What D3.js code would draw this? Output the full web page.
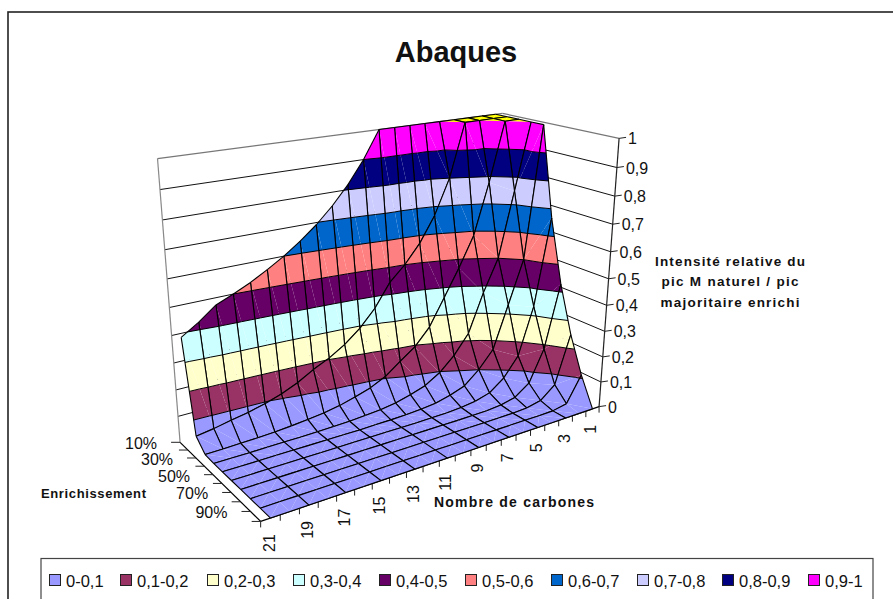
<!DOCTYPE html>
<html lang="fr">
<head>
<meta charset="utf-8">
<title>Abaques</title>
<script src="https://cdn.jsdelivr.net/npm/d3@7"></script>
<style>
  html, body { margin: 0; padding: 0; background: #fff; overflow: hidden; }
  text { font-family: "Liberation Sans", Arial, sans-serif; fill: #111; }
</style>
</head>
<body>
<div id="chart"></div>
<script>
// Values, one list per enrichment row, carbons 1..21
const carbons = d3.range(1, 22);
const enrichments = [10, 20, 30, 40, 50, 60, 70, 80, 90, 100];
const e10 = [1, 1, 1, 1, 1, 1, 1, 1, 1, 0.9, 0.818, 0.75, 0.692, 0.643, 0.6, 0.563, 0.529, 0.5, 0.474, 0.426, 0.386];
const e20 = [1, 1, 1, 1, 0.8, 0.667, 0.571, 0.5, 0.444, 0.356, 0.291, 0.242, 0.205, 0.176, 0.141, 0.114, 0.094, 0.078, 0.066, 0.053, 0.043];
const e30 = [1, 1, 0.778, 0.583, 0.467, 0.363, 0.259, 0.194, 0.151, 0.106, 0.077, 0.058, 0.041, 0.03, 0.022, 0.016, 0.011, 0.008, 0.006, 0.004, 0.003];
const e40 = [1, 0.75, 0.5, 0.375, 0.225, 0.15, 0.096, 0.06, 0.04, 0.024, 0.015, 0.01, 0.006, 0.004, 0.002, 0.001, 0.001, 0.001, 0, 0, 0];
const e50 = [1, 0.5, 0.333, 0.167, 0.1, 0.05, 0.029, 0.014, 0.008, 0.004, 0.002, 0.001, 0, 0, 0, 0, 0, 0, 0, 0, 0];
const e60 = [0.667, 0.333, 0.148, 0.074, 0.03, 0.013, 0.006, 0.002, 0.001, 0, 0, 0, 0, 0, 0, 0, 0, 0, 0, 0, 0];
const e70 = [0.429, 0.184, 0.061, 0.02, 0.007, 0.002, 0.001, 0, 0, 0, 0, 0, 0, 0, 0, 0, 0, 0, 0, 0, 0];
const e80 = [0.25, 0.063, 0.016, 0.004, 0.001, 0, 0, 0, 0, 0, 0, 0, 0, 0, 0, 0, 0, 0, 0, 0, 0];
const e90 = [0.111, 0.012, 0.001, 0, 0, 0, 0, 0, 0, 0, 0, 0, 0, 0, 0, 0, 0, 0, 0, 0, 0];
const e100 = [0, 0, 0, 0, 0, 0, 0, 0, 0, 0, 0, 0, 0, 0, 0, 0, 0, 0, 0, 0, 0];
const rows = [e10, e20, e30, e40, e50, e60, e70, e80, e90, e100];

const bandLabels = ['0-0,1', '0,1-0,2', '0,2-0,3', '0,3-0,4', '0,4-0,5', '0,5-0,6', '0,6-0,7', '0,7-0,8', '0,8-0,9', '0,9-1'];
const bandColors = ['#9999FF', '#993366', '#FFFFCC', '#CCFFFF', '#660066', '#FF8080', '#0066CC', '#CCCCFF', '#000080', '#FF00FF'];
const topColor = '#FFFF00'; // cells sitting exactly on the axis maximum
const zTicks = [0, 0.1, 0.2, 0.3, 0.4, 0.5, 0.6, 0.7, 0.8, 0.9, 1];
const carbonLabels = [1, 3, 5, 7, 9, 11, 13, 15, 17, 19, 21];
const enrichLabels = [10, 30, 50, 70, 90];

const width = 893;
const height = 599;
const svg = d3.select('#chart').append('svg')
  .attr('width', width).attr('height', height)
  .style('display', 'block');

// Box coordinates 0..1. Categories sit mid-slot on the carbon axis, rows sit on the ticks.
const aScale = d3.scaleLinear().domain([0.5, 21.5]).range([0, 1]);
const bScale = d3.scaleLinear().domain([10, 100]).range([0, 1]);
const zFmt = (d) => String(d).replace('.', ',');

// Excel-like perspective: fit a 3x4 projection to the corners of the plot box
const boxPins = [
  [1, 0, 0, 180, 442], [1, 0, 0.3, 174, 364], [1, 0, 0.5, 170, 308], [1, 0, 1, 157.3, 157.7],
  [0, 0, 1, 502, 113], [0, 1, 1, 618, 139.5], [0, 1, 0.5, 610, 278], [0, 1, 0.3, 607, 331],
  [0, 1, 0, 597, 407], [1, 1, 0, 260, 521]
];

function fitProjection(pins) {
  const A = [];
  const y = [];
  pins.forEach(([a, b, z, px, py]) => {
    A.push([a, b, z, 1, 0, 0, 0, 0, -px * a, -px * b, -px * z]);
    y.push(px);
    A.push([0, 0, 0, 0, a, b, z, 1, -py * a, -py * b, -py * z]);
    y.push(py);
  });
  const n = 11;
  const M = d3.range(n).map((i) => {
    const r = d3.range(n).map((j) => d3.sum(A, (row) => row[i] * row[j]));
    r.push(d3.sum(A, (row, k) => row[i] * y[k]));
    return r;
  });
  for (let i = 0; i < n; i++) {
    let p = i;
    for (let k = i + 1; k < n; k++) if (Math.abs(M[k][i]) > Math.abs(M[p][i])) p = k;
    [M[i], M[p]] = [M[p], M[i]];
    for (let k = 0; k < n; k++) {
      if (k === i) continue;
      const f = M[k][i] / M[i][i];
      for (let j = i; j <= n; j++) M[k][j] -= f * M[i][j];
    }
  }
  return d3.range(n).map((i) => M[i][n] / M[i][i]);
}

const P = fitProjection(boxPins);
function project([a, b, z]) {
  const w = P[8] * a + P[9] * b + P[10] * z + 1;
  return [
    (P[0] * a + P[1] * b + P[2] * z + P[3]) / w,
    (P[4] * a + P[5] * b + P[6] * z + P[7]) / w
  ];
}

const path3d = (pts, closed) => {
  const d = d3.line()(pts.map(project));
  return closed ? d + 'Z' : d;
};

function seg(g, p, q, color, w) {
  g.append('path').attr('d', path3d([p, q]))
    .attr('fill', 'none').attr('stroke', color).attr('stroke-width', w);
}

// --- Frame and legend box ---
svg.append('rect').attr('x', 8).attr('y', 12).attr('width', width + 20).attr('height', height + 20)
  .attr('fill', '#fff').attr('stroke', '#222').attr('stroke-width', 1.6);

svg.append('text').attr('x', 456).attr('y', 62).attr('text-anchor', 'middle')
  .style('font-size', '29px').style('font-weight', 'bold').text('Abaques');

// --- Walls ---
const walls = svg.append('g').attr('class', 'walls');
zTicks.filter((d) => d > 0 && d < 1).forEach((z) => {
  seg(walls, [1, 0, z], [0, 0, z], '#111', 1);
  seg(walls, [0, 0, z], [0, 1, z], '#111', 1);
});
seg(walls, [1, 0, 1], [0, 0, 1], '#777', 1.2);
seg(walls, [0, 0, 1], [0, 1, 1], '#777', 1.2);
seg(walls, [1, 0, 0], [1, 0, 1], '#888', 1.2);
seg(walls, [0, 1, 0], [0, 1, 1], '#222', 1.2);

// --- Floor edges and axes ---
const axes = svg.append('g').attr('class', 'axes');
seg(axes, [1, 0, 0], [1, 1, 0], '#000', 1.2);
seg(axes, [1, 1, 0], [0, 1, 0], '#000', 1.2);

zTicks.forEach((z) => {
  const [x, y] = project([0, 1, z]);
  axes.append('line').attr('x1', x).attr('y1', y).attr('x2', x + 7).attr('y2', y - 1)
    .attr('stroke', '#222');
  axes.append('text').attr('x', x + 9).attr('y', y + 6).style('font-size', '16px').text(zFmt(z));
});

enrichments.forEach((e) => {
  const [x, y] = project([1, bScale(e), 0]);
  axes.append('line').attr('x1', x).attr('y1', y).attr('x2', x - 9).attr('y2', y)
    .attr('stroke', '#222');
});
enrichLabels.forEach((e) => {
  const [x, y] = project([1, bScale(e), 0]);
  axes.append('text').attr('x', x - 23).attr('y', y + 7).attr('text-anchor', 'end')
    .style('font-size', '16px').text(e + '%');
});

d3.range(0, 22).forEach((k) => {
  const [x, y] = project([k / 21, 1, 0]);
  axes.append('line').attr('x1', x).attr('y1', y).attr('x2', x).attr('y2', y + 6)
    .attr('stroke', '#222');
});
carbonLabels.forEach((c) => {
  const [x, y] = project([aScale(c), 1, 0]);
  axes.append('text')
    .attr('transform', `translate(${x + 4},${y + 16}) rotate(-90)`)
    .attr('text-anchor', 'end')
    .style('font-size', '16px').text(c);
});

// --- Surface, painted back to front ---
function clipAbove(poly, level, keepAbove) {
  const out = [];
  poly.forEach((p, i) => {
    const q = poly[(i + 1) % poly.length];
    const pIn = keepAbove ? p[2] >= level : p[2] <= level;
    const qIn = keepAbove ? q[2] >= level : q[2] <= level;
    if (pIn) out.push(p);
    if (pIn !== qIn) {
      const t = (level - p[2]) / (q[2] - p[2]);
      out.push([p[0] + t * (q[0] - p[0]), p[1] + t * (q[1] - p[1]), level]);
    }
  });
  return out;
}

const surface = svg.append('g').attr('class', 'surface');

function drawTriangle(g, tri) {
  const zs = tri.map((p) => p[2]);
  if (d3.min(zs) >= 1) {
    g.append('path').attr('d', path3d(tri, true)).attr('fill', topColor);
    return;
  }
  bandColors.forEach((color, k) => {
    const lo = k / 10;
    const hi = (k + 1) / 10;
    if ((d3.max(zs) <= lo && k > 0) || d3.min(zs) >= hi) return;
    const poly = clipAbove(clipAbove(tri, lo, true), hi, false);
    if (poly.length < 3) return;
    g.append('path').attr('d', path3d(poly, true)).attr('fill', color);
  });
}

function contourSegments(g, tri) {
  zTicks.filter((d) => d > 0 && d < 1).forEach((level) => {
    const hits = [];
    tri.forEach((p, i) => {
      const q = tri[(i + 1) % 3];
      if ((p[2] < level && q[2] >= level) || (q[2] < level && p[2] >= level)) {
        const t = (level - p[2]) / (q[2] - p[2]);
        hits.push([p[0] + t * (q[0] - p[0]), p[1] + t * (q[1] - p[1]), level]);
      }
    });
    if (hits.length === 2) seg(g, hits[0], hits[1], '#000', 1);
  });
}

// The reference thins its carbon lines to every second carbon on the nearly flat floor
const floorLimit = 0.02;
const skipCarbonLine = (r, c) => carbons[c] % 2 === 0 && rows[r][c] < floorLimit && rows[r + 1][c] < floorLimit;

for (let i = 0; i < enrichments.length - 1; i++) {
  for (let j = 0; j < carbons.length - 1; j++) {
    const pt = (r, c) => [aScale(carbons[c]), bScale(enrichments[r]), rows[r][c]];
    const p00 = pt(i, j);
    const p01 = pt(i, j + 1);
    const p10 = pt(i + 1, j);
    const p11 = pt(i + 1, j + 1);
    // Split along the flatter diagonal
    const flat = Math.abs(p00[2] - p11[2]) <= Math.abs(p01[2] - p10[2]);
    const tris = flat ? [[p00, p01, p11], [p00, p11, p10]] : [[p00, p01, p10], [p01, p11, p10]];
    const cell = surface.append('g');
    tris.forEach((t) => drawTriangle(cell, t));
    tris.forEach((t) => contourSegments(cell, t));
    seg(cell, p00, p01, '#000', 1.1);
    seg(cell, p10, p11, '#000', 1.1);
    if (!skipCarbonLine(i, j)) seg(cell, p00, p10, '#000', 1.1);
    if (!skipCarbonLine(i, j + 1)) seg(cell, p01, p11, '#000', 1.1);
  }
}

// --- Axis titles ---
svg.append('text').attr('x', 41).attr('y', 498)
  .attr('textLength', 105).attr('lengthAdjust', 'spacing')
  .style('font-size', '13px').style('font-weight', 'bold').text('Enrichissement');
svg.append('text').attr('x', 434).attr('y', 507)
  .attr('textLength', 160).attr('lengthAdjust', 'spacing')
  .style('font-size', '14px').style('font-weight', 'bold').text('Nombre de carbones');
[['Intensité relative du', 266, 150], ['pic M naturel / pic', 286, 137], ['majoritaire enrichi', 307, 139]].forEach(([t, y, len]) => {
  svg.append('text').attr('x', 730 - len / 2).attr('y', y)
    .attr('textLength', len).attr('lengthAdjust', 'spacing')
    .style('font-size', '13.5px').style('font-weight', 'bold').text(t);
});

// --- Legend ---
svg.append('rect').attr('x', 41).attr('y', 558.5).attr('width', 832).attr('height', 80)
  .attr('fill', '#fff').attr('stroke', '#444').attr('stroke-width', 1.2);
const legendX = [49, 120, 207, 293, 379, 465, 551, 637, 722, 808];
const legend = svg.append('g').attr('class', 'legend');
bandLabels.forEach((label, k) => {
  legend.append('rect').attr('x', legendX[k] + 0.5).attr('y', 574.5).attr('width', 11).attr('height', 11)
    .attr('fill', bandColors[k]).attr('stroke', '#222').attr('stroke-width', 1);
  legend.append('text').attr('x', legendX[k] + 17).attr('y', 587).style('font-size', '16.5px').text(label);
});
</script>
</body>
</html>
